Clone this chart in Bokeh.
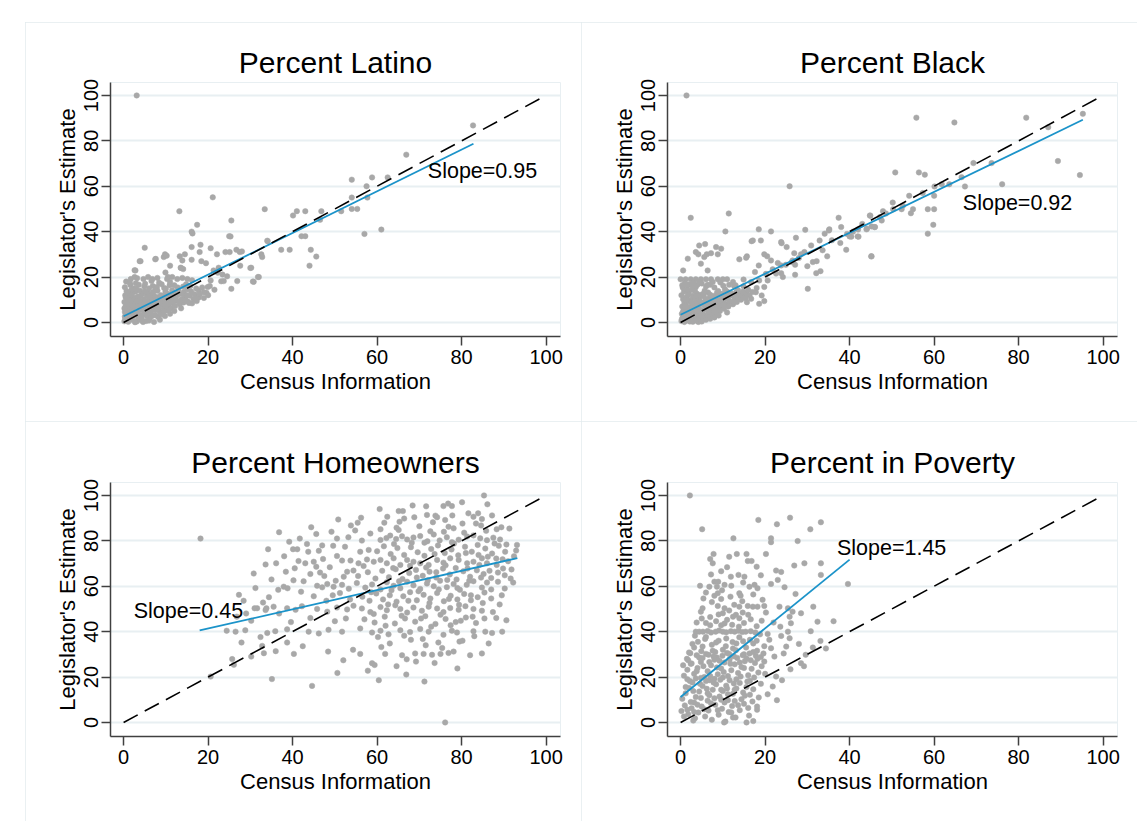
from bokeh.plotting import figure
from bokeh.layouts import gridplot
from bokeh.models import Range1d, FixedTicker, Label
from bokeh.embed import file_html
from bokeh.resources import INLINE

# ---------------- data ----------------
TICKS = [0, 20, 40, 60, 80, 100]
TITLES = ["Percent Latino", "Percent Black", "Percent Homeowners", "Percent in Poverty"]
SLOPE_TEXT = ["Slope=0.95", "Slope=0.92", "Slope=0.45", "Slope=1.45"]
X_LABEL = "Census Information"
Y_LABEL = "Legislator's Estimate"

DIAG_X = [0, 100]
DIAG_Y = [0, 100]

FIT_LATINO_X = [0, 82.8]
FIT_LATINO_Y = [2.7, 78.7]
FIT_BLACK_X = [0, 95.2]
FIT_BLACK_Y = [3.4, 89.3]
FIT_HOME_X = [18.0, 93.2]
FIT_HOME_Y = [40.5, 72.4]
FIT_POV_X = [0, 40.0]
FIT_POV_Y = [11.2, 71.7]

LATINO_PTS = [
    (3.1,100),(82.7,86.8),(66.9,73.9),(58.8,63.9),(62.5,63.9),(54,62.9),(57.5,60),(57.7,55),(54,55),
    (55.3,50),(54,50),(51.5,49),(46.8,49),(46.5,45.2),(41,49),(43,49),(40.1,47.1),(61,40.9),(57,39),
    (42.1,38),(43,38),(37.3,32),(39.3,32),(44.3,32),(45.6,29),(44,25),(34,36),(33.4,49.9),(21.1,55.1),
    (13.2,49),(25.5,44.9),(17.4,43),(16.1,40),(16.3,39.2),(25.3,37.9),(34.1,35.8),(5,32.9),(9.8,30),
    (9.5,28.8),(10.2,29.4),(16.1,33.2),(18.2,34.2),(18,31),(20.6,32.7),(22.1,30),(24.1,31),(25.1,31),
    (26.7,32),(27.5,31),(32.6,30),(32.8,28.8),(4,27),(7.6,28),(13.3,29.1),(13.9,27.3),(14.5,30),
    (13.5,24.1),(14.1,23.5),(16.1,27.6),(18.4,27),(19.5,26.1),(21.3,22.9),(22.5,24.1),(22.3,21.9),
    (23.4,21.1),(24.5,20.3),(27.6,25),(30.2,24.1),(26.9,18.2),(25.5,14.8),(30.8,17.9),(32,20),
    (23.1,18.1),(23.7,18.2),(20.6,18.5),(19.9,15.6),(19.6,13.1),(17.8,14.1),(19,13.3),(2.8,22.9),
    (2.6,20),(11,25),(13.6,24),(2.6,23),(9.9,22),(10.5,20),(3.8,27),(7.5,27.8),(30,24),(31.8,20),
    (30.6,18),(28,31.3),(25,38),
    (1.7,19.1),(3.2,19.5),(4.7,19.1),(5.8,20),(6.8,19.1),(8,19.6),(10.3,19.1),(11.5,20),(12.7,19.1),
    (13.9,19.6),(15.1,19.1),(16.2,18.6),
    (0.2,0.5),(0.4,1.8),(0.6,3.2),(0.3,4.6),(0.8,6),(0.5,7.4),(0.2,9),(0.9,10.5),(0.4,12),(0.7,13.8),
    (0.3,15.5),(1.1,0.3),(1.3,2.5),(1.0,4),(1.5,5.2),(1.2,7),(1.7,8.5),(1.4,11),(1.8,12.8),(1.6,16.5),
    (2.0,1.2),(2.3,3),(2.1,5.8),(2.6,6.8),(2.4,9.2),(2.2,10.8),(2.8,13.5),(2.5,15),(2.9,17.3),(3.1,0.4),
    (3.4,2),(3.2,4.2),(3.7,5.5),(3.3,7.8),(3.8,9.6),(3.5,11.4),(3.9,14),(4.2,1),(4.5,3.4),(4.1,6.2),
    (4.7,7.5),(4.3,8.8),(4.8,10.2),(4.4,12.6),(4.9,15.8),(5.3,0.6),(5.6,2.8),(5.2,4.8),(5.8,6.5),
    (5.4,8.2),(5.9,9.8),(5.5,11.8),(5.7,13.2),(6.2,1.8),(6.5,4),(6.1,5.6),(6.7,7.2),(6.3,9),(6.8,10.6),
    (6.4,12.4),(6.9,16),(7.2,0.2),(7.5,3.2),(7.1,6),(7.7,8),(7.3,9.4),(7.8,11.2),(7.6,14.5),(8.2,2.4),
    (8.5,5),(8.1,7),(8.7,8.6),(8.3,10.2),(8.8,12),(8.4,17.5),(9.2,3.6),(9.5,6.4),(9.1,8),(9.7,9.6),
    (9.3,11.5),(9.9,13.4),(10.3,5.2),(10.6,7.4),(10.1,9.2),(10.8,10.8),(10.4,12.6),(10.9,16.4),
    (11.3,6.2),(11.6,8.4),(11.2,10),(11.8,11.6),(11.5,14.2),(12.2,7.2),(12.6,9.4),(12.3,11),(12.9,12.4),
    (13.3,8),(13.7,10.2),(13.2,12.6),(14.2,8.8),(14.6,11),(14.3,13.4),(15.2,9.2),(15.6,11.8),(15.1,14.6),
    (16.2,8.4),(16.5,10.4),(16.8,12.4),(17.3,9.4),(17.8,11),(1.9,14.5),(0.6,18),(3.6,16.6),(5.1,17),
    (6.6,18.2),(7.9,15.6),(9.6,15.2),(11.9,13),(12.8,15.4),(14.1,15.8),(0.9,0.8),(2.7,0.1),(4.6,0.2),
    (6.0,0.8),(8.6,1.2),(9.8,2.8),(11.0,3.8),(12.0,5.0),(13.6,6.2),
    (0.3,2.6),(0.7,5.2),(1.1,8.2),(1.5,9.8),(1.9,2),(2.3,4.6),(2.7,8),(3.1,11),(3.5,3.6),(3.9,6.8),
    (4.3,2.2),(4.7,5.2),(5.1,9),(5.5,6.2),(5.9,3.8),(6.3,7.8),(6.7,2.8),(7.1,11.8),(7.5,5.4),(7.9,9.8),
    (8.3,6.4),(8.7,3.8),(9.1,10.6),(9.5,4.8),(9.9,7.8),(10.3,11.4),(10.7,5.6),(11.1,9),(11.5,12.4),
    (12,9.8),(12.5,11.8),(13,14.2),(13.5,9.6),(14,12.4),(14.5,10),(15,12),(15.5,8.6),(16,13.6),(17,10.4),
    (18,12.4),(19,10.8),(20,12),(18.6,15.4),(20.4,16),(21.5,14.4),(0.5,11),(1.0,13),(1.5,17.4),(2.0,12),
    (3.0,14.8),(4.0,11.6),(5.0,13.6),(6.0,15),(7.0,13.4),(8.0,14),(9.0,16.8),(10.0,14.8),(11.0,17.8),
    (12.0,16.4),(14.8,16.8),(15.8,16),(17.2,15),(0.2,6.2),(1.2,3.4),(2.2,7.4),(3.2,9.4),(4.2,7.6),
    (6.2,11.4),(8.2,8.8),
]

BLACK_PTS = [
    (1.4,100),(55.8,90.2),(64.8,88.1),(81.8,90.2),(95.2,91.9),(87,86),(89.3,71.1),(94.5,64.9),
    (50.8,66.1),(56.4,66.1),(57.8,65.1),(69.3,70.2),(73.6,70.2),(66.5,64),(67.3,59.9),(76.1,60.9),
    (61.8,60.9),(63.6,60.9),(60.1,59.9),(54.1,55.8),(57.3,57),(60,55.8),(55,49.9),(58.5,49.9),(60,49.9),
    (54.5,48.1),(59.8,43),(58.5,39.1),(52.3,49.9),(50.3,49.9),(47.9,49),(47.2,46.4),(44.8,47.1),(46,42),
    (44,41),(45.2,42.3),(45.2,29.1),(47.6,44.9),(25.8,60),(2.4,46.1),(11.4,48),(10.6,40.1),(18.5,41),
    (21.4,40.1),(4.4,33.9),(3.6,31),(4.2,30),(1.7,28.1),(0.6,22.9),(6.2,30),(5.6,28.8),(7.2,30.5),
    (8.8,30),(8.4,33.2),(4.8,25.9),(6.4,22.9),(13.9,27.8),(16.8,35.8),(19,36.1),(15.7,29.1),(15.5,28.5),
    (20.5,29.1),(19.8,30),(21.4,27.3),(18.5,25.1),(17.6,22.2),(14.9,18.9),(14.9,15.9),(12.4,17.8),
    (12.7,15.9),(16.7,17.8),(18.6,18.5),(19.8,15.6),(20.6,18.5),(17.8,13.3),(19.2,11.9),(19.8,9.4),
    (18.6,8.2),(16.7,10.4),(15.7,8.9),(23.8,25.1),(24.9,25.4),(27.1,25.4),(26.5,27.3),(23.8,21.7),
    (24.2,20),(22.6,21.5),(27.1,21),(30.1,14.8),(23.8,35.4),(25.1,33.2),(27.3,37.3),(29.5,40.8),
    (30.9,33.9),(32.9,36.1),(34.1,39.1),(35.2,41),(29.3,31),(28.5,30),(31.3,26.6),(32.2,27),(33.1,22.6),
    (32.1,21.7),(26.9,30.5),(26.3,26.6),(37.4,46.1),(39.2,32),(34.7,29.1),(40,37.9),(41.9,37.9),
    (45.1,29.1),(44.9,47),(45.9,42),(44.1,41.3),(35.1,40.5),(42.1,37.8),(40.4,37.8),(39.4,39),(42,40.9),
    (23.9,34.9),(17.1,36.1),(9.6,32.5),(5.8,34.5),
    (0,19),(1.2,19),(2.4,19),(3.6,19),(4.8,19),(6,19),(7.2,19),(8.8,19),(10,19),(11,19),
    (0.2,0.6),(0.5,2.2),(0.3,3.8),(0.7,5.4),(0.4,7),(0.9,8.6),(0.6,10.2),(0.2,12),(0.8,13.6),(0.5,15.4),
    (1.2,1),(1.5,3),(1.1,4.6),(1.7,6.2),(1.3,7.8),(1.8,9.4),(1.4,11.2),(1.9,13),(1.6,16.2),(2.2,0.4),
    (2.5,2),(2.1,3.6),(2.7,5.2),(2.3,6.8),(2.8,8.4),(2.4,10),(2.9,11.8),(2.6,14.4),(3.2,1.2),(3.5,2.8),
    (3.1,4.4),(3.7,6),(3.3,7.6),(3.8,9.2),(3.4,10.8),(3.9,12.6),(3.6,15.6),(4.2,0.2),(4.5,2.4),(4.1,4),
    (4.7,5.6),(4.3,7.2),(4.8,8.8),(4.4,10.4),(4.9,12.2),(5.3,1.4),(5.6,3.2),(5.2,4.8),(5.8,6.4),
    (5.4,8),(5.9,9.6),(5.5,11.4),(5.7,14),(6.3,2.2),(6.6,4.2),(6.2,5.8),(6.8,7.4),(6.4,9),(6.9,10.8),
    (6.5,13.2),(7.3,3),(7.6,5),(7.2,6.6),(7.8,8.2),(7.4,9.8),(7.9,11.6),(8.3,4),(8.6,6),(8.2,7.6),
    (8.8,9.4),(8.4,11),(8.9,13.8),(9.3,5),(9.6,7),(9.2,8.6),(9.8,10.4),(9.4,12.2),(10.3,6),(10.6,8),
    (10.2,9.6),(10.8,11.4),(10.5,14.6),(11.3,7),(11.6,9),(11.2,10.6),(11.9,12.4),(12.4,8),(12.8,10),
    (12.3,11.8),(13.3,9),(13.7,11),(13.2,13.4),(14.3,10),(14.6,12),(15.2,11),(15.6,13),(16.3,12),
    (1.0,17.4),(2.0,16.8),(3.0,17.6),(4.0,16.6),(5.0,17.2),(6.0,15.8),(7.0,16.6),(8.0,15.4),(10.1,16.2),
    (0.9,0.2),(1.9,0.8),(2.9,0.3),(3.8,0.8),(5.0,0.4),(6.0,1.2),(7.0,1.6),(8.0,2.2),(9.0,3),(11.0,4.4),
    (0.3,1.4),(0.6,4.6),(1.0,7),(1.4,9.8),(1.8,12.2),(2.2,5.6),(2.6,8.8),(3.0,3.2),(3.4,6.4),(3.8,11.6),
    (4.2,5.2),(4.6,9.2),(5.0,3.6),(5.4,12.6),(5.8,7.6),(6.2,10.2),(6.6,4.8),(7.0,12.2),(7.4,8.4),
    (7.8,5.8),(8.2,10),(8.6,13),(9.0,7.2),(9.4,9.8),(9.8,12.6),(10.2,7.6),(10.6,10.6),(11.0,13.6),
    (11.5,9.6),(12.0,12.8),(12.5,9.2),(13,11.6),(13.6,14.2),(14,12.6),(14.8,13.6),(15.4,10.6),(16,14.4),
    (17,13.4),(18,15.2),(13,16.4),(11.5,16.6),(9.4,17.6),(7.6,17.8),(6.4,16.6),(4.4,17.8),(2.8,16.2),
    (0.4,16.4),(1.6,14.4),(3.4,13.8),(20.2,21.4),(21.8,23.4),(23,26.2),(28,28.4),(30,24.8),(35.8,36.2),
    (37.8,35),(40.8,40),(43,43.4),(38,42),(48.6,48),(52.6,51.4),(50.2,52.8),(33.6,31.8),
]

HOME_PTS = [
    (18.2,81),(80.1,97),(85.3,100),(86.1,96.1),(60.6,94),(65.1,93.1),(66.1,93.1),(75.7,95.3),(77.7,95.3),
    (71.8,91.4),(73.8,91.1),(74.2,90.4),(81.6,92.1),(83.9,92.1),(82.8,90.6),(84.8,89.6),(76.1,89.2),
    (76.9,86.2),(78.1,85.5),(65.3,88.4),(65.1,84.8),(60.8,85.1),(49.2,84),(44.4,86),(50.5,81),(41.7,81),
    (56.4,80.1),
    (60.8,80.4),(62.2,81.2),(63.1,82.3),(64.5,80.8),(65.9,82),(67.1,80.6),(68.6,81.5),(70.2,82.1),
    (71.9,79.8),(73.4,82.8),(74.8,80.2),(76.5,81.6),(77.7,79.4),(79.3,80.5),(81.3,81.9),(82.8,82.4),
    (84.4,81.1),(86,80.3),(87.5,81.4),(89.1,80.6),
    (88.3,85.1),(93.1,78.2),(92.9,75.7),(34.2,76.3),(40.1,76.3),(41.1,76.3),(43.7,75.2),(36.1,70.1),
    (41.4,71.1),(43,70.1),(45,70.8),(45.6,68.6),(47.2,72),(40.5,67.9),(50.5,73.3),(51.7,71.3),(53.7,71.3),
    (56,75.2),(58,76),(52.9,66.4),(52.1,64.2),(54.4,66.9),(55.6,70.1),(56.8,68.9),
    (59.2,70.8),(60.8,71.6),(62.3,70.1),(63.9,72.3),(65.5,69.4),(67.1,71.6),(68.6,70.8),(70.2,70.1),
    (72.2,69.4),(74.2,71.6),(75.7,70.4),(77.3,72.3),(79.3,71.6),(81.3,70.1),(82.8,70.8),(84.8,72.3),
    (86,70.1),(88.3,69.4),(90.3,75.2),(89.7,71.9),
    (45.8,60.2),(47,59.5),(48.2,61),(49.7,59.8),(51.7,60.6),(53.3,58.9),(55.2,61.4),(57.2,59.4),
    (58.8,60.8),(60.8,58.6),(62.3,61.8),(63.9,60.2),(65.5,59.1),(67.1,62),(68.6,60.4),(70.2,58.8),
    (71.8,61.2),(73.4,60),(74.9,62.4),(76.5,59.6),(78.1,61),(79.6,58.4),(81.2,60.6),(82.8,62.2),
    (84.8,59.4),(86,61.6),
    (31.6,50.3),(33.6,49.5),(35.5,51),(38.7,50.3),(40.7,49.6),(42.2,51.2),(45.8,50),(48.2,48.8),
    (50.5,50.6),(52.9,49.8),(54.4,51.4),(56.4,50.2),(58.4,48.6),(60.8,50.8),(62.3,49.4),(64.3,51.6),
    (65.5,50),(67.1,48.4),(68.6,50.6),(70.6,49.2),(72.2,51),(74.2,50.2),(75.7,48.6),(77.3,50.4),
    (79.3,49.6),(80.9,51.2),(82.8,50),(84.8,49.2),
    (26.5,40),(28.8,40.6),(34,39.4),(35.9,40.2),(38.7,41),(43.8,40),(46.2,39.2),(48.5,40.8),(51.7,40),
    (56,41.4),(58.8,39.6),(60.8,40.4),(62.7,38.8),(65.5,40.6),(67.8,39.8),(70.2,41.2),(72.2,40),
    (75.7,38.6),(77.7,40.4),(78.9,39.6),(82.8,40.2),(85.6,40),(87.2,39.4),
    (56,30.2),(61.9,30.2),(65.9,29.6),(69,30.4),(71,30.2),(73,29.8),(75,30.2),(76.9,30.6),(78.1,31.2),
    (54.3,32),(58.8,26.1),(59.4,25.3),(66.9,21.1),(69.2,26.8),(76.1,0),(35.1,19.1),(44.6,16.1),
    (20.6,20.2),(25.7,27.9),(26.1,25.4),(27.9,35.2),(30.2,29),(33.2,30.5),(32.8,33.7),(38.7,35.2),
    (40.3,30.2),(27.3,56.2),(34.4,55.2),(37.9,59.8),(38.8,59.1),(31,50.3),(33.8,50.3),
    (55.5,64.5),(57.8,66.2),(59.6,63.4),(61.2,66.8),(62.8,64),(64.4,67.5),(66,63.2),(67.6,65.8),
    (69.2,67.2),(70.8,64.6),(72.4,66.4),(74,63.8),(75.6,67.8),(77.2,65.2),(78.8,63),(80.4,66.6),
    (82,64.2),(83.6,67),(85.2,65.4),(87,63.6),(88.6,66),(90.2,64.8),
    (60,75.4),(61.6,77.6),(63.2,74.2),(64.8,76.8),(66.4,73.8),(68,77.2),(69.6,75),(71.2,73.4),
    (72.8,76.4),(74.4,78),(76,74.6),(77.6,76.2),(79.2,73.6),(80.8,77.4),(82.4,75.2),(84,73.8),
    (85.6,76.6),(87.2,74.4),(88.8,77.8),
    (56.5,55.4),(58.2,53.6),(59.8,56.8),(61.4,54.2),(63,56),(64.6,53.2),(66.2,55.6),(67.8,57.4),
    (69.4,53.8),(71,56.2),(72.6,54.6),(74.2,57),(75.8,53.4),(77.4,55.8),(79,54.2),(80.6,56.6),
    (82.2,53.8),(83.8,55.2),(85.4,57.2),(87,54.6),
    (57,45.4),(59.4,44),(61.8,46.6),(64.2,43.6),(66.6,45.8),(69,44.4),(71.4,46.8),(73.8,43.4),
    (76.2,45.6),(78.6,44.2),(81,46.2),(83.4,43.8),(74.5,35.2),(68,36.4),(79.5,35.6),(63,34.8),(71.5,34),
    (47.5,64.5),(49.5,56),(45,55.6),(42.6,62.2),(36.8,48),(39.6,44.2),(30.2,44.8),(29,48),(24.4,40.4),
    (44.2,65.4),(47,78),(52.4,77.4),(54.8,84.6),(61.7,88),(70,86.4),(72.6,84.2),(80.2,87.6),(84.6,86.8),
    (91.3,85.4),(91.8,67.4),(92.2,61.6),(89.5,56),(90.6,45),(88.2,46),(87.2,91.2),(71.6,95.2),(66.4,89.8),
    (46.5,66),(48.8,68.4),(50.2,62.4),(51.2,57),(53.6,54.2),(52.6,45.8),(50,44.6),(48,53.6),(44.2,46),
    (42,57.6),(40.2,62.6),(38.4,66.4),(36.6,58.4),(35,63),(33,52.8),(31.2,59.2),(38,73.2),(46.2,75.6),
    (49.6,77.8),(53.2,81.6),(55.4,88),(57.6,71.8),(58.6,57.4),(59.2,47.8),(60.2,37.6),(61,33.2),(62,42.6),
    (62.6,52),(63.4,58.2),(63.8,68),(64,78.6),(64.6,85.8),(65.2,62.2),(65.8,47),(66.4,38.2),(67,27.8),
    (67.4,53.6),(67.8,69),(68.2,79.2),(68.8,90.4),(69.4,63.8),(69.8,57.8),(70.4,45.8),(70.8,36.8),
    (71.2,79.2),(71.6,68.2),(72,62.6),(72.4,52.6),(72.8,42.2),(73.2,88.2),(73.6,74.2),(74,66.2),
    (74.6,58.6),(75,47.4),(75.4,32.8),(75.8,84),(76.2,69.2),(76.6,62.8),(77,54.4),(77.4,42.8),(77.8,91.2),
    (78.2,78.8),(78.6,68),(79,59.2),(79.4,51.8),(79.8,44.8),(80.2,36),(80.6,83.6),(81,74.6),(81.4,67.8),
    (81.8,62.4),(82.2,56),(82.6,46.6),(83,38),(83.4,87.6),(83.8,78.2),(84.2,69.4),(84.6,63.8),(85,52.6),
    (85.4,45.8),(85.8,84.4),(86.2,73),(86.6,66.8),(87,58.6),(87.4,48.6),(87.8,78.8),(88.2,72.2),(88.6,62),
    (89,52),(89.4,86),(89.8,67.8),(90.2,59),(90.6,78.4),(91,71),(91.6,63.4),(92.4,73.2),(76.8,96.4),
    (68.4,95.6),(62.4,90.6),(58.4,83.2),(56.2,90.2),(53.8,86.8),(50.8,89.4),(45.6,83),(43.4,78.6),
    (39.2,79.6),(36.8,83.8),(33.6,69.6),(30.8,65.6),(28.4,53.6),(26.8,46.6),(32.4,37.6),(36,31.4),
    (42.4,33.6),(48.4,31.2),(52,27.4),(57.8,22.8),(64.6,24.8),(73.6,26.2),(82,29.6),(86.4,34.8),(89.6,40),
    (84.8,30.4),(60.4,18.6),(50.6,21.8),(71.2,18),(79,23.8),
]

POV_PTS = [
    (2.2,100),(5.1,85.1),(18.4,89.2),(22.8,87.3),(25.9,90.2),(33.2,88.2),(30.7,85.1),(12.5,81.1),
    (21.4,81.1),(21.4,79.4),(27.7,79.9),(7.8,74.2),(7,72),(7.6,70.1),(11.5,73),(13.3,74.2),(15.6,74.2),
    (15.9,71.1),(16.8,71.1),(20.2,74.2),(22.6,66.9),(23.8,66.3),(26.9,69.1),(29.3,70.1),(33.2,70.1),
    (33.2,65),(39.6,61),(11.9,64.2),(13.7,65),(15.1,64.2),(8,62),(8.9,62),(8.6,59.8),(8.8,56.9),
    (6.8,59.8),(10.4,60.6),(16.3,59.8),(17.5,60.6),(18.2,59.1),(21.4,61),(13.9,56.9),(5.2,50.3),
    (4.8,48.8),(8.8,51.3),(10.4,50.3),(12.7,51.8),(13.9,51),(15.9,51.3),(17.1,51),(10,48.1),(11.5,49.3),
    (13.1,47.4),(13.9,45.9),(14.7,48.4),(19.4,54),(19.8,51.3),(18.2,51),(23.4,51),(25.4,50.3),
    (26.5,48.8),(28.5,48.1),(31.4,51),(25.8,46.6),(26.1,43.7),(25.4,40),(25.8,37.1),(25,33.4),
    (20.6,39),(21,36.4),(23.8,38.1),(21.4,32.7),(22.2,29),(22.6,20.2),(21.8,15.8),(28.5,26.1),
    (33.1,35.9),(31.3,33),(18.1,7),(18.1,5.6),(15.6,0),
    (3.6,40),(4.4,40),(5.3,40),(6.4,40.3),(7.2,39.6),(8.3,40),(9.1,40.5),(10,40),(10.8,39.7),(11.9,40.2),
    (12.8,40),(13.7,40.4),(14.6,39.8),(15.4,40),(16.6,40.2),(17.7,39.6),
    (2.3,30.5),(3.2,33),(4.1,35.5),(4.9,31.4),(5.8,36.8),(6.6,29.8),(7.4,34.2),(8.2,31),(9,36),
    (9.9,29.4),(10.7,33.6),(11.5,30.2),(12.3,35.4),(13.1,31.8),(13.9,37.5),(14.7,29.6),(15.5,33),
    (16.3,30.4),(17.2,34.8),(18.1,31.6),(19,28.8),(19.8,33.6),(3.8,29.6),(6,30.2),(8.6,28.6),(11,30.6),
    (12.6,29.2),(15,30),(17.8,29.4),(1.5,28),(5.2,28.4),(2.6,26),
    (0.8,20.6),(1.6,23.2),(2.4,25.8),(3.2,21.4),(4,24),(4.8,26.6),(5.6,20),(6.4,22.6),(7.2,25.2),
    (8,27.6),(8.8,21.2),(9.6,23.8),(10.4,26.4),(11.2,20.4),(12,23),(12.8,25.6),(13.6,21.8),(14.4,24.4),
    (15.2,27),(16,20.8),(16.8,23.6),(17.6,26.2),(18.4,22),(19.2,24.8),(20,21.4),(3.6,19.4),(6.8,18.6),
    (10,19.8),(13.2,19),(16.4,18.4),(2,30.8),(7.8,29),
    (0.4,10.4),(1.2,12.8),(2,15.2),(2.8,17.6),(3.6,11.2),(4.4,13.6),(5.2,16),(6,18.2),(6.8,12),
    (7.6,14.4),(8.4,16.8),(9.2,11.4),(10,13.8),(10.8,16.2),(11.6,18.6),(12.4,12.6),(13.2,15),(14,17.4),
    (14.8,13.2),(15.6,15.6),(16.4,12.2),(17.2,14.6),(18.5,11),(1.6,19),(4.8,19.6),(8,19.2),(11.2,9.8),
    (3.2,8.8),(6.4,9.6),(9.6,10),(12.8,9.4),
    (0.2,5),(1,7.5),(1.8,3.6),(2.6,6.2),(3.4,1.8),(4.2,4.4),(5,7),(5.8,2.6),(6.6,5.2),(7.4,1.2),
    (8.2,7.8),(9,3.4),(9.8,6),(10.6,0.4),(11.4,4.6),(12.2,7.2),(13,2.2),(14,5.4),(15,8.2),(16.2,3),
    (10.3,0),(3,0.8),
    (6,43.8),(7,46.4),(8.4,44.6),(9.6,42.8),(11,45.2),(12.2,43),(15,43.8),(16.6,45.4),(18,42.4),
    (19.2,44.8),(5.4,54.6),(7.4,53),(9.6,54.4),(11.8,55.4),(14.6,53.4),(6,57.2),(4.6,60.2),(9.8,58.2),
    (12,60.2),(14.8,61.6),(7.2,65.2),(9.6,66.6),(11,68.4),(17.2,56.4),(20.2,48.4),(22,44),(23.6,42.2),
    (24.4,30.4),(26,23.4),(28,34.6),(29.6,29.8),(30.8,40.2),(32.4,44.4),(27.2,56.6),(24.6,59.6),
    (23,62.8),(19,64.8),(18,68.6),(36.2,44.6),(34.4,32.6),(29.2,24.8),(24,18.6),(20.6,12.4),(22.8,9.8),
    (17.2,0.6),(12.4,2.2),
    (1.2,15.6),(2.2,18.2),(3,13.8),(3.8,22.6),(4.6,17),(5.4,24.8),(6.2,14.8),(7,20.4),(7.8,17.6),
    (8.6,24.2),(9.4,18.8),(10.2,22.2),(11,15),(11.8,25.8),(12.6,17.2),(13.4,28.4),(14.2,20.2),(15,24),
    (15.8,18),(16.6,27.4),(17.4,19.8),(18.2,28),(19,17),(19.8,26.8),(0.6,25.2),(1.8,27.4),(2.8,34.6),
    (3.4,38.2),(4.4,28.6),(5.2,33.4),(6,37.6),(6.8,26.6),(7.6,31.6),(8.4,35.2),(9.2,27.2),(10,32),
    (10.8,37),(11.6,27.8),(12.4,32.6),(13.2,34.8),(14,26.4),(14.8,35.8),(15.6,28.2),(16.4,36.4),(17.2,31),
    (18,36),(18.8,38.8),(19.6,30.4),(0.8,2.6),(1.6,5.6),(2.4,9),(3.2,4.6),(4,7.8),(4.8,10.8),(5.6,5.8),
    (6.4,12.8),(7.2,8.4),(8,10.6),(8.8,5.4),(9.6,14.4),(10.4,8.8),(11.2,12.4),(12,4.4),(12.8,14.4),
    (13.6,7.6),(14.4,10.2),(15.2,11.8),(16,6.4),(17,9.2),(7,42.8),(10.4,43.6),(13.8,42.2),(5,45.8),
    (9,47.6),(12.4,46.6),(16,47.4),(3.8,44),(14.2,55.8),(8,55.8),
]

# ---------------- styling ----------------
FONT = "Liberation Sans"
PT_COLOR = "#a8a8a8"
FIT_COLOR = "#1b93c9"
GRID_COLOR = "#e8eff2"
AXIS_COLOR = "#404040"
PANEL_LINE = "1px solid #e3ebee"


def make_panel(title, pts, fit_x, fit_y, slope_txt, slope_pos, height, b_left, b_top):
    width = 556
    frame_w = 450
    frame_h = 254
    p = figure(width=width, height=height,
               x_range=Range1d(-3.1, 103.4), y_range=Range1d(-6.2, 105.7),
               output_backend="svg", toolbar_location=None,
               min_border_left=b_left, min_border_right=width - b_left - frame_w,
               min_border_top=b_top, min_border_bottom=height - b_top - frame_h,
               title=title)
    p.styles = {"outline": PANEL_LINE, "outline-offset": "-1px"}
    p.background_fill_color = "white"
    p.border_fill_color = "white"
    p.outline_line_color = GRID_COLOR
    p.outline_line_width = 1

    p.title.align = "center"
    p.title.text_font = FONT
    p.title.text_font_size = "30px"
    p.title.text_font_style = "normal"
    p.title.text_color = "black"
    p.title.standoff = 7

    for ax in (p.xaxis[0], p.yaxis[0]):
        ax.ticker = FixedTicker(ticks=TICKS)
        ax.minor_tick_line_color = None
        ax.major_tick_in = 0
        ax.major_tick_out = 9
        ax.major_tick_line_color = AXIS_COLOR
        ax.major_tick_line_width = 1.5
        ax.axis_line_color = AXIS_COLOR
        ax.axis_line_width = 1.5
        ax.major_label_text_font = FONT
        ax.major_label_text_font_size = "20px"
        ax.major_label_text_color = "black"
        ax.axis_label_text_font = FONT
        ax.axis_label_text_font_size = "22px"
        ax.axis_label_text_font_style = "normal"
        ax.axis_label_text_color = "black"
    p.xaxis.axis_label = X_LABEL
    p.yaxis.axis_label = Y_LABEL
    p.xaxis.major_label_standoff = 4
    p.xaxis.axis_label_standoff = 2
    p.yaxis.major_label_orientation = "vertical"
    p.yaxis.major_label_standoff = 3
    p.yaxis.axis_label_standoff = 2

    p.xgrid.visible = False
    p.ygrid.ticker = FixedTicker(ticks=TICKS)
    p.ygrid.grid_line_color = GRID_COLOR
    p.ygrid.grid_line_width = 2

    xs = [a for a, b in pts]
    ys = [b for a, b in pts]
    p.scatter(xs, ys, size=5.5, fill_color=PT_COLOR, line_color=PT_COLOR, line_width=0.5)
    p.line(fit_x, fit_y, line_color=FIT_COLOR, line_width=1.8)
    p.line(DIAG_X, DIAG_Y, line_color="black", line_width=1.6, line_dash="16 8")

    p.add_layout(Label(x=slope_pos[0], y=slope_pos[1], text=slope_txt,
                       text_font=FONT, text_font_size="21.5px", text_color="black",
                       text_align="left", text_baseline="middle"))
    return p


p1 = make_panel(TITLES[0], LATINO_PTS, FIT_LATINO_X, FIT_LATINO_Y, SLOPE_TEXT[0], (72.0, 66.5), 399, 85, 60)
p2 = make_panel(TITLES[1], BLACK_PTS, FIT_BLACK_X, FIT_BLACK_Y, SLOPE_TEXT[1], (66.8, 52.4), 399, 86, 60)
p3 = make_panel(TITLES[2], HOME_PTS, FIT_HOME_X, FIT_HOME_Y, SLOPE_TEXT[2], (2.4, 49.3), 400, 85, 61)
p4 = make_panel(TITLES[3], POV_PTS, FIT_POV_X, FIT_POV_Y, SLOPE_TEXT[3], (37.0, 76.7), 400, 86, 61)

grid = gridplot([[p1, p2], [p3, p4]], toolbar_location=None)
grid.margin = (22, 0, 0, 25)

open("out.html", "w").write(file_html(grid, INLINE))
